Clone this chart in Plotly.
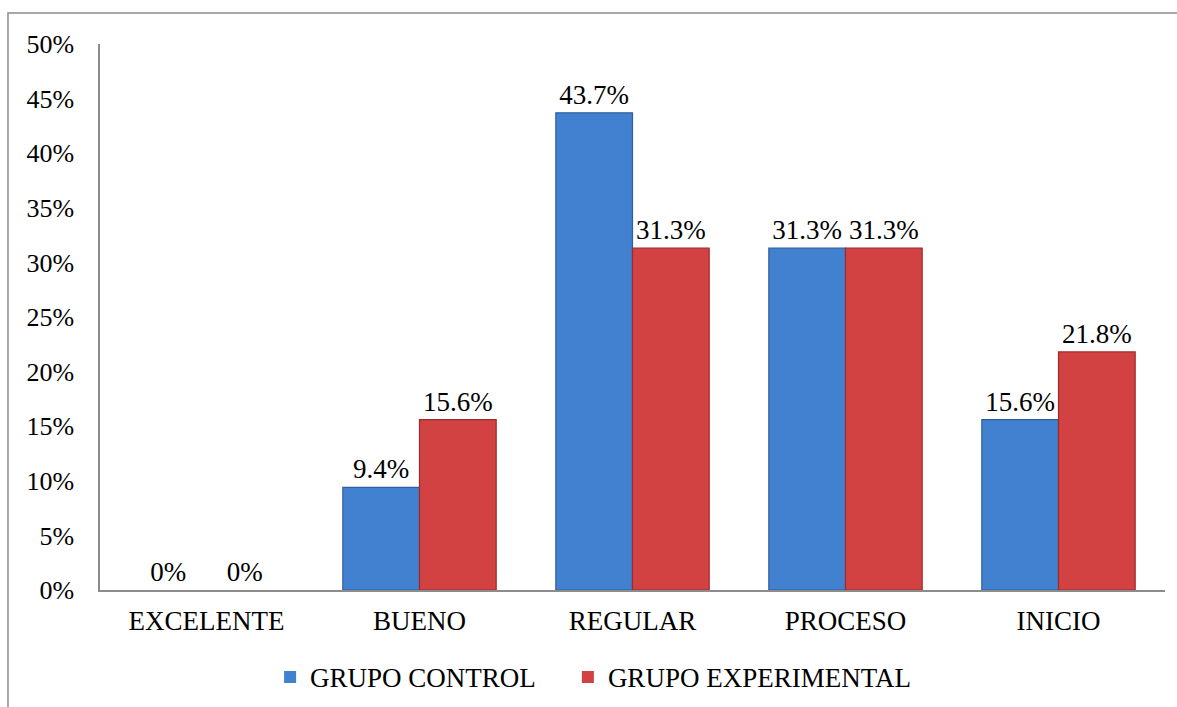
import plotly.graph_objects as go

# Achievement levels and percentage of students per group
categories = ["EXCELENTE", "BUENO", "REGULAR", "PROCESO", "INICIO"]
grupo_control = [0, 9.4, 43.7, 31.3, 15.6]
grupo_experimental = [0, 15.6, 31.3, 31.3, 21.8]
tick_values = [0, 5, 10, 15, 20, 25, 30, 35, 40, 45, 50]
tick_labels = [f"{v}%" for v in tick_values]

FONT = "Liberation Serif"
FS = 27


def pct(values):
    return [f"{v:g}%" for v in values]


def edge_widths(values):
    # no outline on empty bars so nothing shows at the baseline
    return [0 if v == 0 else 1.2 for v in values]


fig = go.Figure()
fig.add_trace(go.Bar(
    # trailing em space widens the gap between the two legend entries
    name="GRUPO CONTROL\u2003",
    x=categories,
    y=grupo_control,
    text=pct(grupo_control),
    textposition="outside",
    cliponaxis=False,
    marker=dict(color="#4281D0",
                line=dict(color="#2D5FA0", width=edge_widths(grupo_control))),
    textfont=dict(family=FONT, size=FS, color="#000000"),
))
fig.add_trace(go.Bar(
    name="GRUPO EXPERIMENTAL",
    x=categories,
    y=grupo_experimental,
    text=pct(grupo_experimental),
    textposition="outside",
    cliponaxis=False,
    marker=dict(color="#D24242",
                line=dict(color="#9E2A2A", width=edge_widths(grupo_experimental))),
    textfont=dict(family=FONT, size=FS, color="#000000"),
))

# Outer chart frame (top and left edges visible)
fig.add_shape(
    type="rect", xref="paper", yref="paper",
    x0=-0.0864, x1=1.2, y0=-0.3, y1=1.0568,
    line=dict(color="#8C8C8C", width=1.5), fillcolor="rgba(0,0,0,0)",
    layer="below",
)

fig.update_layout(
    width=1177,
    height=707,
    margin=dict(l=100, r=12, t=44, b=117, autoexpand=False),
    paper_bgcolor="white",
    plot_bgcolor="white",
    barmode="group",
    bargap=0.28,
    bargroupgap=0,
    uniformtext=dict(minsize=FS, mode="show"),
    font=dict(family=FONT, size=FS, color="#000000"),
    showlegend=True,
    legend=dict(
        orientation="h",
        x=0.463, xanchor="center",
        y=-0.16, yanchor="middle",
        font=dict(family=FONT, size=FS, color="#000000"),
        itemwidth=30,
        traceorder="normal",
    ),
    xaxis=dict(
        showline=True, linecolor="#8C8C8C", linewidth=1.5,
        showgrid=False, ticks="",
        ticklabelstandoff=6,
        tickfont=dict(family=FONT, size=FS, color="#000000"),
    ),
    yaxis=dict(
        range=[0, 50],
        tickvals=tick_values,
        ticktext=tick_labels,
        showline=True, linecolor="#8C8C8C", linewidth=1.5,
        showgrid=False, zeroline=False, ticks="",
        ticklabelstandoff=19,
        tickfont=dict(family=FONT, size=26, color="#000000"),
    ),
)

fig.write_html("out.html")
